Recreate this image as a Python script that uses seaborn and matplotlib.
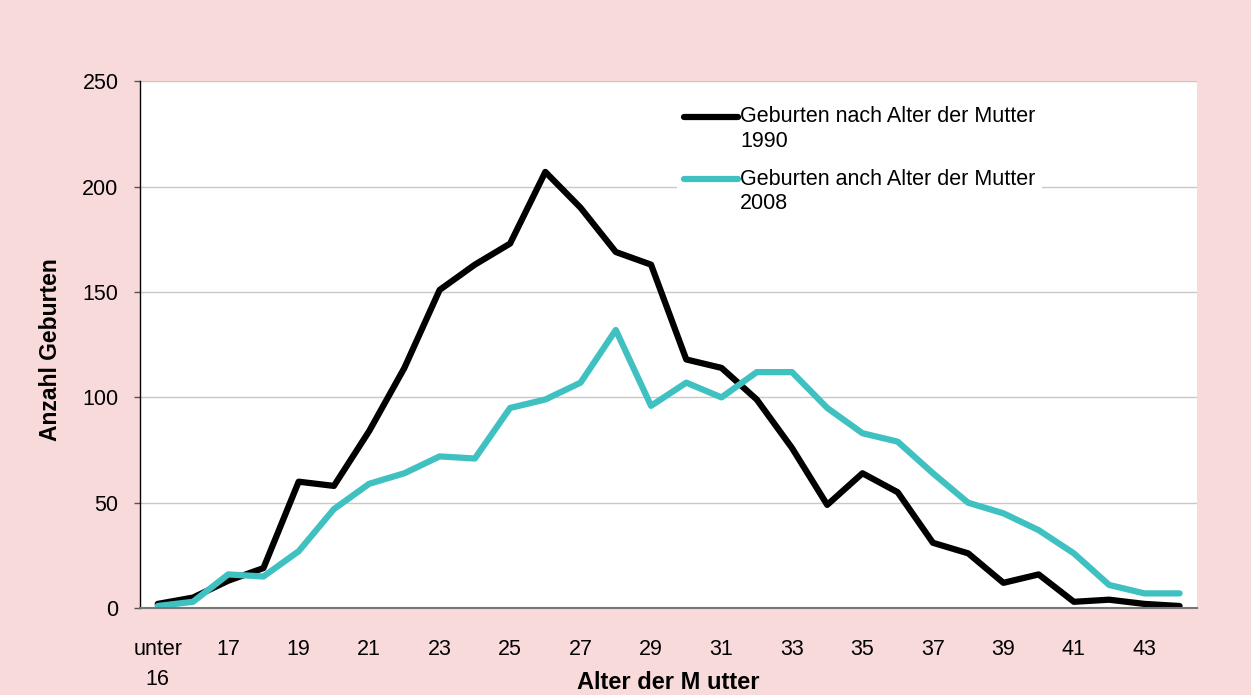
import pandas as pd
import numpy as np
import matplotlib.pyplot as plt
import seaborn as sns
from matplotlib.legend_handler import HandlerLine2D

# Data
ages = ['unter\n16'] + [str(a) for a in range(16, 45)]
births_1990 = [2, 5, 13, 19, 60, 58, 84, 114, 151, 163, 173, 207, 190, 169, 163,
               118, 114, 99, 76, 49, 64, 55, 31, 26, 12, 16, 3, 4, 2, 1]
births_2008 = [1, 3, 16, 15, 27, 47, 59, 64, 72, 71, 95, 99, 107, 132, 96,
               107, 100, 112, 112, 95, 83, 79, 64, 50, 45, 37, 26, 11, 7, 7]
series_names = ['Geburten nach Alter der Mutter\n1990',
                'Geburten anch Alter der Mutter\n2008']

df = pd.DataFrame({
    'pos': list(range(len(ages))) * 2,
    'Anzahl': births_1990 + births_2008,
    'Serie': [series_names[0]] * len(ages) + [series_names[1]] * len(ages),
})

sns.set_style('white')
plt.rcParams['font.family'] = ['Liberation Sans', 'DejaVu Sans']
plt.rcParams['text.color'] = 'black'
plt.rcParams['xtick.color'] = 'black'
plt.rcParams['ytick.color'] = 'black'
plt.rcParams['axes.labelcolor'] = 'black'

pink = '#F9DADB'
fig = plt.figure(figsize=(12.51, 6.95), dpi=100, facecolor=pink)
ax = fig.add_axes([0.112, 0.125, 0.845, 0.758])
ax.set_facecolor('white')

palette = {series_names[0]: 'black', series_names[1]: '#40C1C1'}
sns.lineplot(data=df, x='pos', y='Anzahl', hue='Serie', palette=palette,
             linewidth=4.5, ax=ax, legend=False, solid_capstyle='round')

ax.set_xlim(-0.5, len(ages) - 0.5)
ax.set_ylim(0, 250)
ax.set_yticks(range(0, 251, 50))
ax.yaxis.grid(True, color='#c8c8c8', linewidth=1)
ax.set_axisbelow(True)

# ticks at category boundaries, labels on every other category
ax.set_xticks(np.arange(-0.5, len(ages), 1.0))
ax.set_xticklabels([])
ax.set_xticks(range(0, len(ages), 2), minor=True)
ax.set_xticklabels(ages[::2], minor=True, linespacing=1.6)
ax.tick_params(axis='x', which='major', direction='out', length=5, width=1,
               color='#555555')
ax.tick_params(axis='x', which='minor', length=0, pad=22, labelsize=15.5)
ax.tick_params(axis='y', direction='out', length=4.5, width=1, color='#555555',
               labelsize=15.5, left=True, pad=11)

for s in ['top', 'right']:
    ax.spines[s].set_visible(False)
ax.spines['left'].set_color('black')
ax.spines['left'].set_linewidth(1)
ax.spines['bottom'].set_color('#777777')
ax.spines['bottom'].set_linewidth(1.5)

ax.set_xlabel('Alter der M utter', fontsize=17, fontweight='bold')
ax.set_ylabel('Anzahl Geburten', fontsize=16.5, fontweight='bold')
ax.xaxis.set_label_coords(0.5, -0.12)
ax.yaxis.set_label_coords(-0.074, 0.49)


class TopLineHandler(HandlerLine2D):
    # put the legend line beside the first text line
    def create_artists(self, legend, orig_handle, xdescent, ydescent,
                       width, height, fontsize, trans):
        return super().create_artists(legend, orig_handle, xdescent,
                                      ydescent - 1.2 * fontsize, width, height,
                                      fontsize, trans)


handles = [plt.Line2D([], [], color=palette[n], linewidth=4.5,
                      solid_capstyle='round') for n in series_names]
leg = ax.legend(handles, series_names, loc='upper left',
                bbox_to_anchor=(0.498, 0.985), frameon=True, fontsize=15.5,
                handlelength=2.5, handletextpad=0.12, labelspacing=0.8,
                borderpad=0.3,
                handler_map={plt.Line2D: TopLineHandler()})
leg.get_frame().set_facecolor('white')
leg.get_frame().set_edgecolor('none')
leg.get_frame().set_alpha(1)

fig.savefig('out.png', dpi=100, facecolor=pink)
